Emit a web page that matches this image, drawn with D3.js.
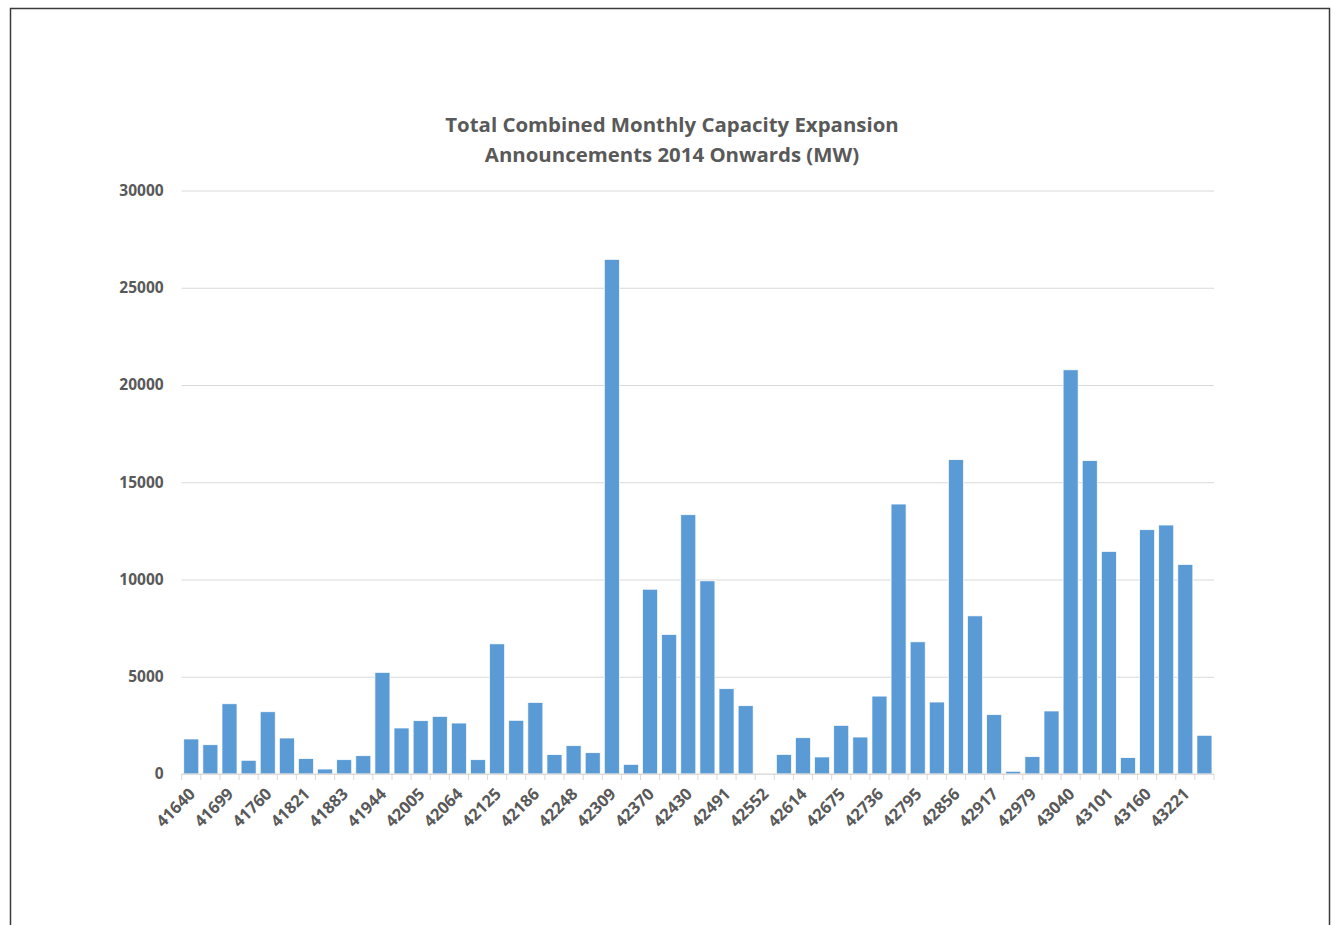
<!DOCTYPE html>
<html>
<head>
<meta charset="utf-8">
<script src="https://cdn.jsdelivr.net/npm/d3@7"></script>
<style>
  html, body { margin: 0; padding: 0; background: #ffffff; }
  svg { display: block; }
  text { font-family: "Open Sans", "DejaVu Sans", sans-serif; }
</style>
</head>
<body>
<svg id="chart" width="1333" height="925"></svg>
<script>
// Month start dates as spreadsheet serial numbers (Jan 2014 – Jun 2018)
const months = [
  41640, 41671, 41699, 41730, 41760, 41791, 41821, 41852, 41883, 41913, 41944, 41974,
  42005, 42036, 42064, 42095, 42125, 42156, 42186, 42217, 42248, 42278, 42309, 42339,
  42370, 42401, 42430, 42461, 42491, 42522, 42552, 42583, 42614, 42644, 42675, 42705,
  42736, 42767, 42795, 42826, 42856, 42887, 42917, 42948, 42979, 43009, 43040, 43070,
  43101, 43132, 43160, 43191, 43221, 43252
];

// Combined capacity expansion announced each month (MW)
const capacityMW = [
  1800, 1505, 3610, 705, 3200, 1850, 790, 255, 735, 940, 5225, 2365,
  2740, 2960, 2620, 735, 6690, 2760, 3680, 995, 1455, 1095, 26460, 495,
  9500, 7170, 13330, 9930, 4385, 3510, 40, 1000, 1865, 875, 2500, 1900,
  4005, 13880, 6795, 3700, 16160, 8130, 3050, 140, 890, 3240, 20780, 16110,
  11440, 840, 12560, 12800, 10770, 1990
];

const yTicks = [0, 5000, 10000, 15000, 20000, 25000, 30000];
const titleLines = [
  "Total Combined Monthly Capacity Expansion",
  "Announcements 2014 Onwards (MW)"
];

const data = months.map((m, i) => ({ month: m, value: capacityMW[i] }));

const svg = d3.select("#chart");
const plotLeft = 181.7, plotRight = 1214, plotTop = 190.5, plotBottom = 774;
const textColor = "#595959";
const gridColor = "#d9d9d9";

// outer chart frame
svg.append("rect")
  .attr("x", 10.5).attr("y", 8.5)
  .attr("width", 1319).attr("height", 1000)
  .attr("fill", "none")
  .attr("stroke", "#3a3a3a")
  .attr("stroke-width", 1.5);

const pad = 0.215;
const x = d3.scaleBand()
  .domain(months)
  .range([plotLeft, plotRight])
  .paddingInner(pad)
  .paddingOuter(pad / 2);

const y = d3.scaleLinear()
  .domain([0, 30000])
  .range([plotBottom, plotTop]);

// horizontal gridlines + value labels
const yAxis = d3.axisLeft(y)
  .tickValues(yTicks)
  .tickSize(-(plotRight - plotLeft))
  .tickPadding(18)
  .tickFormat(d3.format("d"));

const gy = svg.append("g")
  .attr("transform", `translate(${plotLeft},0)`)
  .call(yAxis);
gy.select(".domain").remove();
gy.selectAll(".tick line")
  .attr("stroke", gridColor)
  .attr("stroke-width", 1);
gy.selectAll(".tick text")
  .attr("fill", textColor)
  .style("font-size", "15.5px")
  .style("font-weight", "700");

// bars
svg.append("g")
  .selectAll("rect")
  .data(data)
  .join("rect")
  .attr("x", d => x(d.month))
  .attr("y", d => y(d.value))
  .attr("width", x.bandwidth())
  .attr("height", d => y(0) - y(d.value))
  .attr("fill", "#5b9bd5")
  .attr("stroke", "#ffffff")
  .attr("stroke-width", 0.7);

// category axis: baseline with tick marks at category boundaries
const step = x.step();
const boundaries = d3.range(months.length + 1).map(i => x(months[0]) - step * pad / 2 + i * step);
const gx = svg.append("g");
gx.append("line")
  .attr("x1", plotLeft).attr("x2", plotRight)
  .attr("y1", plotBottom).attr("y2", plotBottom)
  .attr("stroke", gridColor)
  .attr("stroke-width", 1);
gx.selectAll("line.tk")
  .data(boundaries)
  .join("line")
  .attr("class", "tk")
  .attr("x1", d => d).attr("x2", d => d)
  .attr("y1", plotBottom).attr("y2", plotBottom + 6)
  .attr("stroke", gridColor)
  .attr("stroke-width", 1);

// rotated labels for every second month
const xAxis = d3.axisBottom(x)
  .tickValues(months.filter((m, i) => i % 2 === 0))
  .tickSize(0)
  .tickFormat(d3.format("d"));
const gxl = svg.append("g")
  .attr("transform", `translate(0,${plotBottom})`)
  .call(xAxis);
gxl.select(".domain").remove();
gxl.selectAll(".tick text")
  .attr("fill", textColor)
  .style("font-size", "16.5px")
  .style("font-weight", "700")
  .attr("text-anchor", "end")
  .attr("dy", null)
  .attr("y", 0)
  .attr("transform", "translate(5,21) rotate(-45)");

// title
svg.append("g")
  .selectAll("text")
  .data(titleLines)
  .join("text")
  .attr("x", 672)
  .attr("y", (d, i) => 132 + i * 30)
  .attr("text-anchor", "middle")
  .attr("fill", textColor)
  .style("font-size", "20.4px")
  .style("font-weight", "700")
  .text(d => d);
</script>
</body>
</html>
